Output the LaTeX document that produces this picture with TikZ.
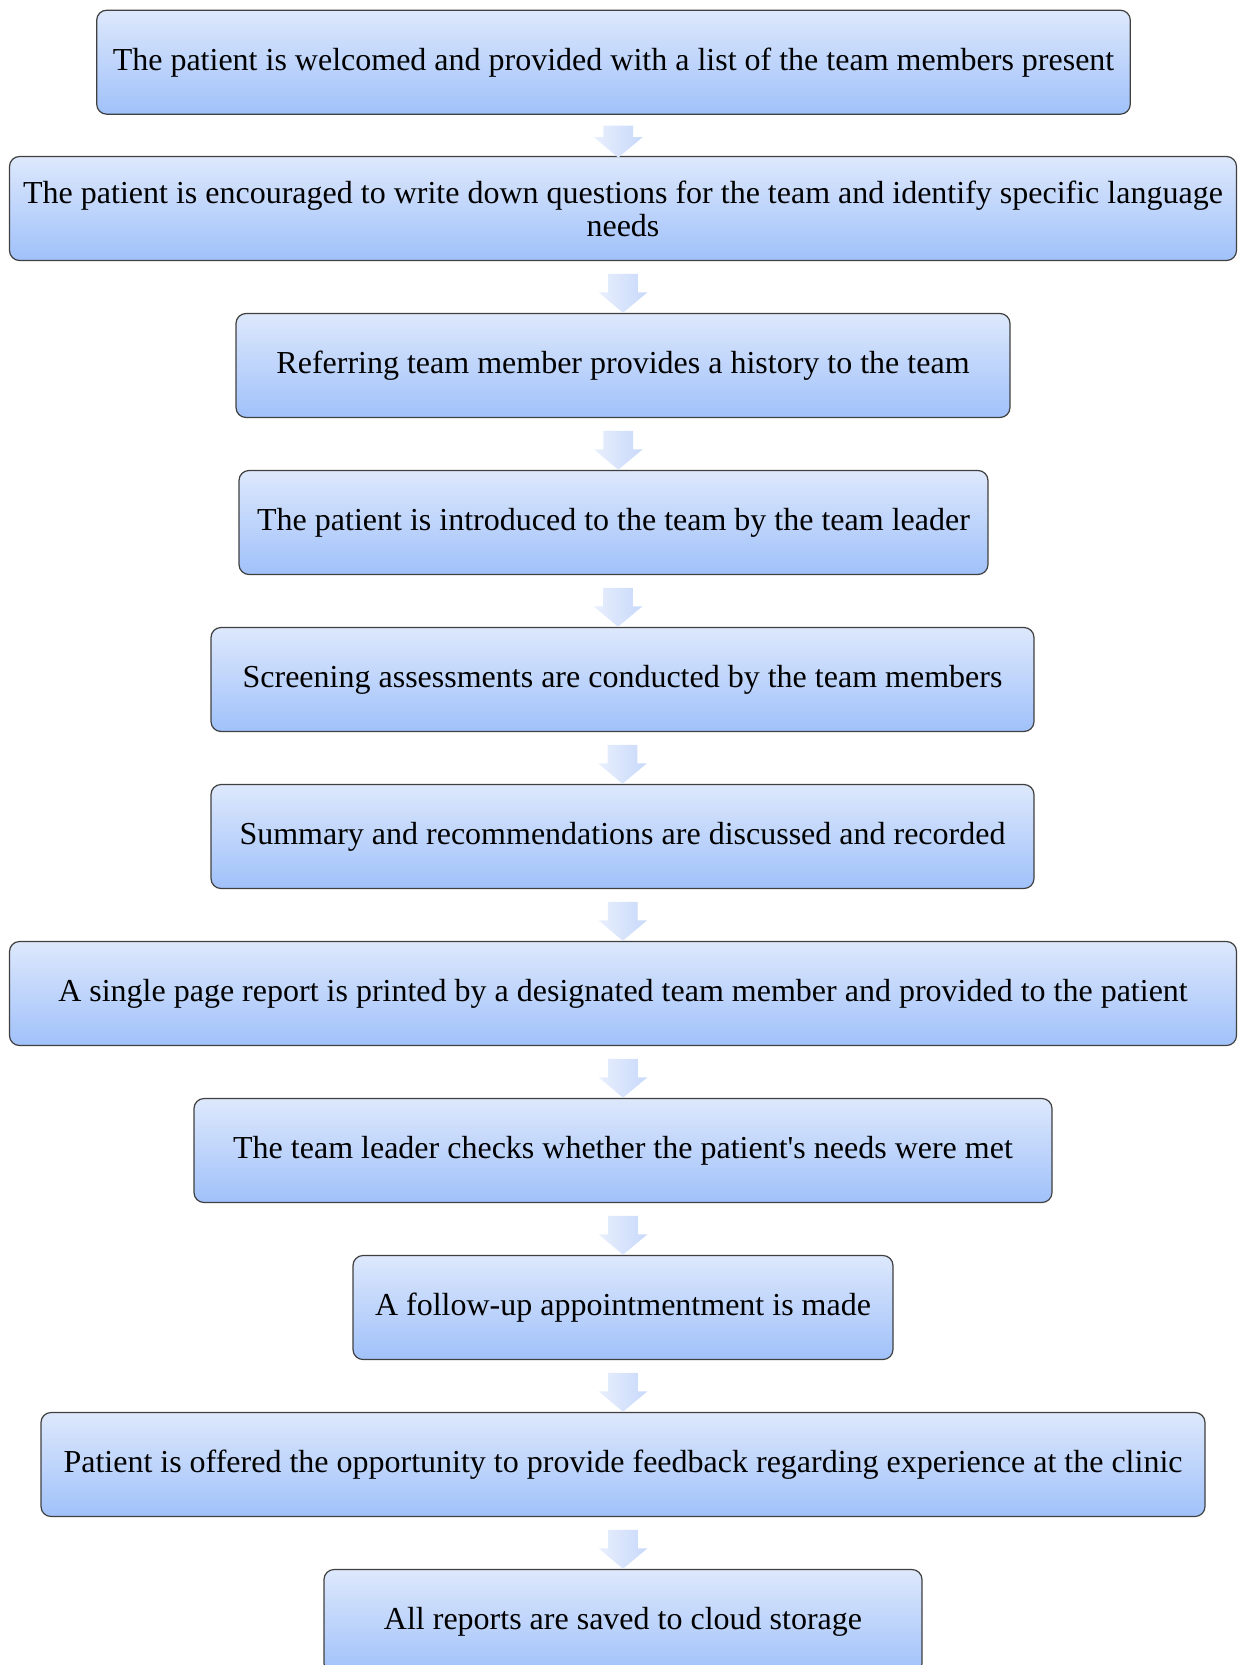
\documentclass[tikz,border=0pt]{standalone}
\usepackage{fontspec}
\setmainfont{Liberation Serif}
\usetikzlibrary{positioning, shapes.arrows, calc}
\definecolor{boxtop}{RGB}{221,232,252}
\definecolor{boxbottom}{RGB}{160,193,250}
\definecolor{arrowtop}{RGB}{233,240,253}
\definecolor{arrowbottom}{RGB}{199,216,250}
\definecolor{boxline}{RGB}{64,64,64}

\begin{document}
\begin{tikzpicture}
\tikzset{
stepbox/.style={draw=boxline, line width=0.6pt, rounded corners=5pt, top color=boxtop, bottom color=boxbottom, minimum height=52pt, align=center, inner sep=0pt, font=\fontsize{16}{16.5}\selectfont}, % the blue boxes
downarrow/.style={single arrow, draw=none, rotate=-90, left color=arrowtop, right color=arrowbottom, minimum width=24pt, single arrow head extend=4.75pt, single arrow tip angle=100, inner xsep=0pt, inner ysep=7.25pt}, % block arrows between the boxes
node distance=78.5pt, % centre to centre distance of the boxes
}
\useasboundingbox (0,0) rectangle (622.5pt,-832.5pt);
	\node[stepbox, minimum width=516.8pt] (s1) at (306.75pt,-31.1pt) {The patient is welcomed and provided with a list of the team members present};
	\node[stepbox, minimum width=613.5pt, below of=s1, node distance=73.15pt, xshift=4.75pt] (s2) {The patient is encouraged to write down questions for the team and identify specific language\\needs};
	\node[stepbox, minimum width=387pt, below of=s2] (s3) {Referring team member provides a history to the team};
	\node[stepbox, minimum width=374.5pt, below of=s3, xshift=-4.75pt] (s4) {The patient is introduced to the team by the team leader};
	\node[stepbox, minimum width=411.5pt, below of=s4, xshift=4.5pt] (s5) {Screening assessments are conducted by the team members};
	\node[stepbox, minimum width=411.5pt, below of=s5] (s6) {Summary and recommendations are discussed and recorded};
	\node[stepbox, minimum width=613.5pt, below of=s6, xshift=0.25pt] (s7) {A single page report is printed by a designated team member and provided to the patient};
	\node[stepbox, minimum width=429pt, below of=s7] (s8) {The team leader checks whether the patient\textquotesingle s needs were met};
	\node[stepbox, minimum width=270pt, below of=s8] (s9) {A follow-up appointmentment is made};
	\node[stepbox, minimum width=582pt, below of=s9] (s10) {Patient is offered the opportunity to provide feedback regarding experience at the clinic};
	\node[stepbox, minimum width=299pt, below of=s10] (s11) {All reports are saved to cloud storage};

	\foreach \a/\b/\len in {s1/s2/16pt, s2/s3/19.5pt, s3/s4/19.5pt, s4/s5/19.5pt, s5/s6/19.5pt, s6/s7/19.5pt, s7/s8/19.5pt, s8/s9/19.5pt, s9/s10/19.5pt, s10/s11/19.5pt}
		\node[downarrow, minimum height=\len] at ($(\a.south)!0.5!(\b.north)$) {};
\end{tikzpicture}
\end{document}
